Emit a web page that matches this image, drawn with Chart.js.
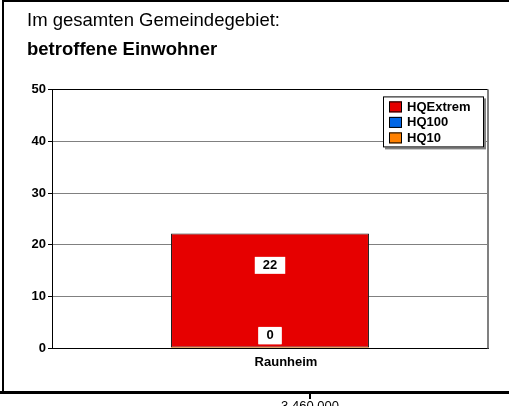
<!DOCTYPE html>
<html>
<head>
<meta charset="utf-8">
<script src="https://cdn.jsdelivr.net/npm/chart.js@4"></script>
<style>
  html, body { margin: 0; padding: 0; background: #fff; overflow: hidden; }
  #wrap { position: relative; width: 509px; height: 406px; }
  #chart { position: absolute; left: 0; top: 0; }
  #below { position: absolute; top: 398px; left: 260px; width: 100px; text-align: center;
           font: 13px "Liberation Sans", Arial, sans-serif; color: #000; }
</style>
</head>
<body>
<div id="wrap">
  <canvas id="chart" width="509" height="406"></canvas>
  <div id="below">3.460.000</div>
</div>
<script>
const categories = ['Raunheim']
const seriesNames = ['HQ10', 'HQ100', 'HQExtrem']
const hq10 = [0]
const hq100 = [0]
const hqExtrem = [22]
const yTicks = [0, 10, 20, 30, 40, 50]

const colors = { HQ10: '#ff8000', HQ100: '#0066e6', HQExtrem: '#e60000' }
const fontBold = { family: '"Liberation Sans", Arial, sans-serif', size: 13, weight: 'bold' }

// page frame + plot right border
const framePlugin = {
  id: 'frame',
  beforeDraw(chart) {
    const ctx = chart.ctx
    ctx.save()
    ctx.fillStyle = '#fff'
    ctx.fillRect(0, 0, chart.width, chart.height)
    ctx.fillStyle = '#000'
    ctx.fillRect(2, 0, 2, 394)
    ctx.fillRect(2, 0, 507, 2)
    ctx.fillRect(0, 391, 509, 3)
    ctx.fillRect(309, 394, 2, 5)
    ctx.restore()
  },
  afterDraw(chart) {
    const a = chart.chartArea
    const ctx = chart.ctx
    ctx.save()
    ctx.fillStyle = '#808080'
    ctx.fillRect(a.right - 1, a.top, 2, a.bottom - a.top)
    ctx.restore()
  }
}

// value labels in white boxes
const labelPlugin = {
  id: 'valueLabels',
  afterDatasetsDraw(chart) {
    const ctx = chart.ctx
    ctx.save()
    ctx.font = `bold ${fontBold.size}px ${fontBold.family}`
    ctx.textAlign = 'center'
    ctx.textBaseline = 'middle'
    chart.data.datasets.forEach((ds, i) => {
      chart.getDatasetMeta(i).data.forEach((el, j) => {
        const v = ds.data[j]
        const y = v > 0 ? el.y + (el.base - el.y) * 0.28 : el.base - 12
        const w = ctx.measureText(String(v)).width + 16
        ctx.fillStyle = '#fff'
        ctx.fillRect(el.x - w / 2, y - 8.5, w, 17)
        ctx.fillStyle = '#000'
        ctx.fillText(String(v), el.x, y + 0.5)
      })
    })
    ctx.restore()
  }
}

// legend box inside the plot, top right
const legendPlugin = {
  id: 'boxLegend',
  afterDraw(chart) {
    const a = chart.chartArea
    const ctx = chart.ctx
    const w = 101, h = 51
    const left = a.right - 4 - w, top = a.top + 7
    ctx.save()
    ctx.fillStyle = '#808080'
    ctx.fillRect(left + 2, top + 2, w, h)
    ctx.fillStyle = '#fff'
    ctx.fillRect(left, top, w, h)
    ctx.strokeStyle = '#000'
    ctx.lineWidth = 1
    ctx.strokeRect(left + 0.5, top + 0.5, w - 1, h - 1)
    ctx.font = `bold ${fontBold.size}px ${fontBold.family}`
    ctx.textBaseline = 'middle'
    const items = chart.data.datasets.slice().reverse()
    items.forEach((ds, k) => {
      const cy = top + 10 + k * 15.5
      ctx.fillStyle = ds.backgroundColor
      ctx.fillRect(left + 6, cy - 5, 13, 11)
      ctx.strokeStyle = '#000'
      ctx.strokeRect(left + 6.5, cy - 4.5, 12, 10)
      ctx.fillStyle = '#000'
      ctx.fillText(ds.label, left + 24, cy + 1)
    })
    ctx.restore()
  }
}

const data = {
  labels: categories,
  datasets: [
    { label: seriesNames[0], data: hq10, backgroundColor: colors.HQ10, borderColor: colors.HQ10, borderWidth: 0, minBarLength: 1 },
    { label: seriesNames[1], data: hq100, backgroundColor: colors.HQ100, borderColor: colors.HQ100, borderWidth: 0 },
    { label: seriesNames[2], data: hqExtrem, backgroundColor: colors.HQExtrem, borderColor: '#1a1a1a', borderWidth: 1, borderSkipped: false }
  ]
}

const config = {
  type: 'bar',
  data: data,
  options: {
    responsive: false,
    animation: false,
    categoryPercentage: 1,
    barPercentage: 0.454,
    layout: { padding: { left: 27, right: 21, top: 0, bottom: 30 } },
    scales: {
      x: {
        stacked: true,
        grid: { display: false, drawTicks: false },
        border: { color: '#000', width: 1 },
        ticks: { font: fontBold, color: '#000', padding: 6, labelOffset: 16 }
      },
      y: {
        stacked: true,
        min: 0,
        max: 50,
        afterBuildTicks(scale) { scale.ticks = yTicks.map(v => ({ value: v })) },
        afterFit(scale) { scale.width = 25 },
        grid: {
          color: c => (c.tick && (c.tick.value === 0 || c.tick.value === 50)) ? '#000' : '#808080',
          tickColor: '#000',
          tickLength: 4
        },
        border: { color: '#000', width: 1 },
        ticks: { font: fontBold, color: '#000', padding: 2 }
      }
    },
    plugins: {
      legend: { display: false },
      tooltip: { enabled: false },
      title: {
        display: true,
        text: 'Im gesamten Gemeindegebiet:',
        align: 'start',
        color: '#000',
        font: { family: '"Liberation Sans", Arial, sans-serif', size: 18.5, weight: 'normal' },
        padding: { top: 10, bottom: 7 }
      },
      subtitle: {
        display: true,
        text: 'betroffene Einwohner',
        align: 'start',
        color: '#000',
        font: { family: '"Liberation Sans", Arial, sans-serif', size: 18.5, weight: 'bold' },
        padding: { top: 0, bottom: 28 }
      }
    }
  },
  plugins: [framePlugin, labelPlugin, legendPlugin]
}

let chart = new Chart(document.getElementById('chart').getContext('2d'), config)
</script>
</body>
</html>
